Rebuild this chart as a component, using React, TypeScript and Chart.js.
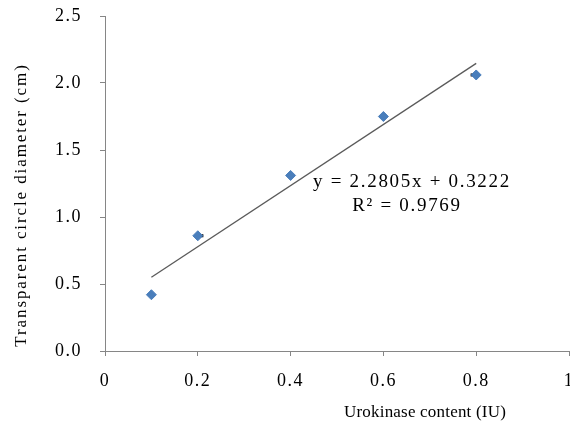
import React, { useEffect, useRef } from "react";
import { Chart, registerables } from "chart.js";

Chart.register(...registerables);

// Data
const contentIU = [0.1, 0.2, 0.4, 0.6, 0.8];
const diameterCm = [0.42, 0.86, 1.31, 1.75, 2.06];
// small horizontal error whiskers visible behind two markers
const xErrMinus = [0, 0, 0, 0, 0.012];
const xErrPlus = [0, 0.012, 0, 0, 0];
const trendSlope = 2.2805;
const trendIntercept = 0.3222;
const trendR2 = 0.9769;
const xTickValues = [0, 0.2, 0.4, 0.6, 0.8, 1];
const xTickLabels = ["0", "0.2", "0.4", "0.6", "0.8", "1"];
const yTickValues = [0, 0.5, 1.0, 1.5, 2.0, 2.5];
const yTickLabels = ["0.0", "0.5", "1.0", "1.5", "2.0", "2.5"];
const xTitle = "Urokinase content (IU)";
const yTitle = "Transparent circle diameter (cm)";
const equationText = `y = ${trendSlope}x + ${trendIntercept}`;
const r2Text = `R² = ${trendR2}`;

const FONT = "'Liberation Serif', 'Times New Roman', serif";
const AXIS_GRAY = "#868686";

const textPlugin = {
  id: "customText",
  beforeDraw(chart: any) {
    (chart.ctx as any).letterSpacing = "1.5px";
  },
  afterDraw(chart: any) {
    const ctx = chart.ctx as any;
    ctx.save();
    ctx.fillStyle = "#000";
    ctx.textAlign = "center";
    ctx.textBaseline = "middle";
    // y title
    ctx.font = `17px ${FONT}`;
    ctx.letterSpacing = "1.9px";
    ctx.save();
    ctx.translate(22, 205);
    ctx.rotate(-Math.PI / 2);
    ctx.fillText(yTitle, 0, 0);
    ctx.restore();
    // x title
    ctx.letterSpacing = "0.2px";
    ctx.font = `17px ${FONT}`;
    ctx.fillText(xTitle, 425, 413);
    // equation
    ctx.font = `19px ${FONT}`;
    ctx.letterSpacing = "1.7px";
    ctx.fillText(equationText, 412, 182);
    ctx.fillText(r2Text, 407, 206);
    ctx.restore();
    ctx.letterSpacing = "0px";
  },
};

const zeroPad = (scale: any) => {
  scale.paddingLeft = 0;
  scale.paddingRight = 0;
  scale.paddingTop = 0;
  scale.paddingBottom = 0;
};

export default function App() {
  const canvasRef = useRef<HTMLCanvasElement | null>(null);

  useEffect(() => {
    const canvas = canvasRef.current;
    if (!canvas) return;
    const trendX = [contentIU[0], contentIU[contentIU.length - 1]];
    const errorSets = contentIU
      .map((x, i) => ({ x, i }))
      .filter(({ i }) => xErrMinus[i] > 0 || xErrPlus[i] > 0)
      .map(({ x, i }) => ({
        type: "line",
        label: "err" + i,
        data: [
          { x: x - xErrMinus[i], y: diameterCm[i] },
          { x: x + xErrPlus[i], y: diameterCm[i] },
        ],
        borderColor: "#000",
        borderWidth: 3,
        pointRadius: 0,
        fill: false,
      }));
    const chart = new Chart(canvas, {
      type: "scatter",
      data: {
        datasets: [
          {
            label: "Diameter",
            data: contentIU.map((x, i) => ({ x, y: diameterCm[i] })),
            pointStyle: "rectRot",
            pointRadius: 5,
            backgroundColor: "#4a7ebb",
            borderColor: "#4a7ebb",
            borderWidth: 1,
          },
          {
            type: "line",
            label: "Trend",
            data: trendX.map((x) => ({ x, y: trendSlope * x + trendIntercept })),
            borderColor: "#5a5a5a",
            borderWidth: 1.3,
            pointRadius: 0,
            fill: false,
          } as any,
          ...(errorSets as any[]),
        ],
      },
      options: {
        responsive: false,
        animation: false,
        devicePixelRatio: 1,
        layout: { autoPadding: false, padding: { left: 0, right: 1, top: 16, bottom: 0 } },
        plugins: {
          legend: { display: false },
          tooltip: { enabled: false },
          title: { display: false },
        },
        scales: {
          x: {
            type: "linear",
            min: 0,
            max: 1,
            afterBuildTicks: (scale: any) => {
              scale.ticks = xTickValues.map((v) => ({ value: v }));
            },
            afterFit: (scale: any) => {
              scale.height = 78;
              zeroPad(scale);
            },
            ticks: {
              padding: 14,
              color: "#000",
              font: { family: FONT, size: 18 },
              maxRotation: 0,
              callback: (v: any) => {
                const i = xTickValues.indexOf(Number(v));
                return i >= 0 ? xTickLabels[i] : "";
              },
            },
            grid: {
              drawOnChartArea: false,
              drawTicks: true,
              tickLength: 5,
              color: AXIS_GRAY,
            },
            border: { color: AXIS_GRAY, width: 1 },
          },
          y: {
            type: "linear",
            min: 0,
            max: 2.5,
            afterBuildTicks: (scale: any) => {
              scale.ticks = yTickValues.map((v) => ({ value: v }));
            },
            afterFit: (scale: any) => {
              scale.width = 105;
              zeroPad(scale);
            },
            ticks: {
              padding: 18,
              color: "#000",
              font: { family: FONT, size: 18 },
              callback: (v: any) => {
                const i = yTickValues.indexOf(Number(v));
                return i >= 0 ? yTickLabels[i] : "";
              },
            },
            grid: {
              drawOnChartArea: false,
              drawTicks: true,
              tickLength: 5,
              color: AXIS_GRAY,
            },
            border: { color: AXIS_GRAY, width: 1 },
          },
        },
      },
      plugins: [textPlugin],
    });
    return () => chart.destroy();
  }, []);

  return (
    <div style={{ position: "fixed", left: 0, top: 0, width: 570, height: 429, background: "#fff" }}>
      <canvas ref={canvasRef} width={570} height={429} style={{ width: 570, height: 429 }} />
    </div>
  );
}
